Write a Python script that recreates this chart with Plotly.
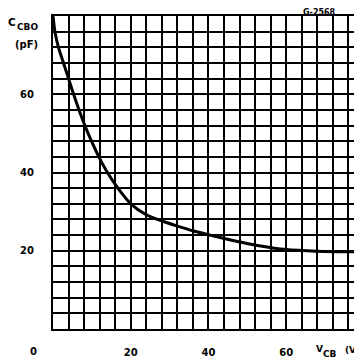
import plotly.graph_objects as go

# Data (V_CB in volts, C_CBO in pF)
vcb = [0, 0.5, 1.4, 2.7, 4.0, 5.3, 6.7, 8.2, 9.9, 11.8, 14.0, 16.7, 20, 24, 28, 32, 36, 40, 46, 53, 60, 68, 79.5]
ccbo = [80, 76, 72, 68, 64, 60, 56, 52, 48, 44, 40, 36, 32, 29.2, 27.6, 26.3, 25.1, 24.1, 22.7, 21.3, 20.3, 19.9, 19.7]

x_ticks = [20, 40, 60]
x_ticklabels = ["20", "40", "60"]
y_ticks = [20, 40, 60]
y_ticklabels = ["20", "40", "60"]

# The page body adds an 8 px offset; the figure is sized so it ends at the window edge.
OFF = 8
W, H = 362 - OFF, 362 - OFF
L, R, T, B = 45, 0, 8, 33
pw, ph = W - L - R, H - T - B


def px(xpage):
    return (xpage - OFF - L) / pw


def py(ypage):
    return (H - B - (ypage - OFF)) / ph


FONT = "DejaVu Sans"

fig = go.Figure()
fig.add_trace(go.Scatter(x=vcb, y=ccbo, mode="lines",
                         line=dict(color="black", width=3, shape="spline", smoothing=0.8),
                         hoverinfo="skip", showlegend=False, cliponaxis=False))

tickfont = dict(family=FONT, size=10, color="black", weight="bold")
fig.update_xaxes(range=[0, 79.5], tickvals=x_ticks, ticktext=x_ticklabels, ticks="",
                 showgrid=True, gridcolor="black", gridwidth=1.5,
                 minor=dict(dtick=4, tick0=0, showgrid=True, gridcolor="black", gridwidth=1.5),
                 showline=True, linecolor="black", linewidth=2, mirror=True,
                 zeroline=False, ticklabelstandoff=13, tickfont=tickfont)
fig.update_yaxes(range=[0, 80], tickvals=y_ticks, ticktext=y_ticklabels, ticks="",
                 showgrid=True, gridcolor="black", gridwidth=1.5,
                 minor=dict(dtick=4, tick0=0, showgrid=True, gridcolor="black", gridwidth=1.5),
                 showline=True, linecolor="black", linewidth=2, mirror=False,
                 zeroline=False, ticklabelstandoff=15, tickfont=tickfont)


def ann(text, x, y, size=10, xanchor="center"):
    return dict(text=text, x=px(x), y=py(y), xref="paper", yref="paper", showarrow=False,
                xanchor=xanchor, yanchor="middle", borderpad=0,
                font=dict(family=FONT, size=size, color="black", weight="bold"))


annotations = [
    ann("0", 33.7, 351.5),
    ann("V", 319, 349.5, size=9),
    ann("CB", 321.5, 353.5, size=9, xanchor="left"),
    ann("(V)", 352.5, 350, size=9),
    ann("C", 12, 22.5, size=10.5),
    ann("CBO", 15.5, 27.5, size=9, xanchor="left"),
    ann("(pF)", 26.5, 44),
    ann("G-2568", 319.5, 12.2, size=8),
]

fig.update_layout(width=W, height=H, margin=dict(l=L, r=R, t=T, b=B, pad=0),
                  paper_bgcolor="white", plot_bgcolor="white",
                  annotations=annotations, showlegend=False)

fig.write_html("out.html")
